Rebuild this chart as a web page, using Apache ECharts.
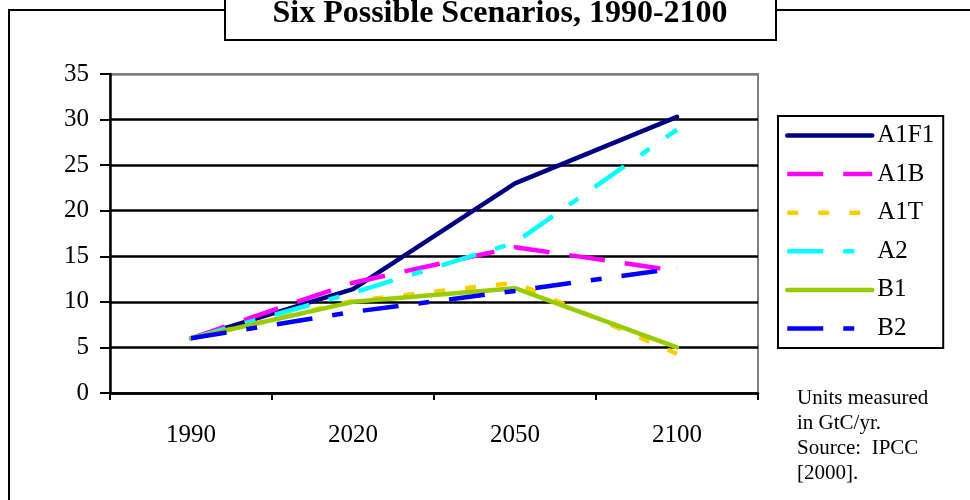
<!DOCTYPE html>
<html>
<head>
<meta charset="utf-8">
<script src="https://cdn.jsdelivr.net/npm/echarts@6/dist/echarts.min.js"></script>
<style>
  html, body { margin: 0; padding: 0; background: #fff; }
  #chart { width: 970px; height: 500px; }
</style>
</head>
<body>
<div id="chart"></div>
<script>
// values (GtC/yr)
var years = ["1990", "2020", "2050", "2100"];
var yTicks = [0, 5, 10, 15, 20, 25, 30, 35];
var a1f1 = [6, 11.4, 23, 30.3];
var a1b = [6, 12.1, 16.0, 13.4];
var a1t = [6, 10.1, 12.1, 4.3];
var a2 = [6, 11.0, 16.5, 28.9];
var b1 = [6, 10.0, 11.5, 5.0];
var b2 = [6, 8.9, 11.2, 13.7];

var serif = '"Liberation Serif", "DejaVu Serif", serif';

function mkLine(name, data, color, dash) {
  return {
    name: name,
    type: "line",
    data: data,
    symbol: "none",
    lineStyle: {
      color: color,
      width: 4.5,
      type: dash || "solid",
      cap: dash ? "butt" : "round"
    },
    itemStyle: { color: color },
    emphasis: { disabled: true }
  };
}

var chart = echarts.init(document.getElementById("chart"));
chart.setOption({
  animation: false,
  backgroundColor: "#fff",
  grid: {
    left: 110, right: 212, top: 74, bottom: 107,
    show: true, borderColor: "#808080", borderWidth: 2, backgroundColor: "#fff"
  },
  xAxis: {
    type: "category",
    data: years,
    boundaryGap: true,
    axisLine: { lineStyle: { color: "#000", width: 2.5 } },
    axisTick: { show: true, inside: false, length: 7, lineStyle: { color: "#000", width: 2 } },
    axisLabel: { margin: 30, color: "#000", fontSize: 25, fontFamily: serif },
    splitLine: { show: false }
  },
  yAxis: {
    type: "value",
    min: yTicks[0],
    max: yTicks[yTicks.length - 1],
    interval: yTicks[1] - yTicks[0],
    axisLine: { show: true, lineStyle: { color: "#000", width: 2.5 } },
    axisTick: { show: true, inside: false, length: 10, lineStyle: { color: "#000", width: 2 } },
    axisLabel: { margin: 21, color: "#000", fontSize: 25, fontFamily: serif },
    splitLine: {
      show: true,
      lineStyle: {
        color: ["#000", "#000", "#000", "#000", "#000", "#000", "#000", "#808080"],
        width: 2.5
      }
    }
  },
  legend: {
    orient: "vertical",
    left: 778,
    top: 116,
    padding: [7, 9, 7, 7],
    itemWidth: 85,
    itemHeight: 14,
    itemGap: 13.6,
    borderColor: "#000",
    borderWidth: 2,
    backgroundColor: "#fff",
    itemStyle: { opacity: 0 },
    lineStyle: { width: 4.5 },
    textStyle: { color: "#000", fontSize: 25, fontFamily: serif },
    data: ["A1F1", "A1B", "A1T", "A2", "B1", "B2"]
  },
  series: [
    mkLine("A1F1", a1f1, "#000080"),
    mkLine("A1B", a1b, "#ff00ff", [36, 20]),
    mkLine("A1T", a1t, "#ffcc00", [11, 20]),
    mkLine("A2", a2, "#00ffff", [36, 20, 11, 20]),
    mkLine("B1", b1, "#99cc00"),
    mkLine("B2", b2, "#0000ff", [36, 20, 11, 20])
  ],
  graphic: [
    {
      type: "polyline",
      shape: { points: [[9, 510], [9, 10], [230, 10]] },
      style: { stroke: "#000", lineWidth: 2, fill: null }
    },
    {
      type: "line",
      shape: { x1: 770, y1: 10, x2: 975, y2: 10 },
      style: { stroke: "#000", lineWidth: 2 }
    },
    {
      type: "rect",
      shape: { x: 225, y: -10, width: 551, height: 50 },
      style: { fill: "#fff", stroke: "#000", lineWidth: 2 }
    },
    {
      type: "text",
      x: 500,
      y: 14,
      style: {
        text: "Six Possible Scenarios, 1990-2100",
        font: 'bold 32px "Liberation Serif", serif',
        fill: "#000",
        align: "center",
        verticalAlign: "middle",
        textAlign: "center",
        textVerticalAlign: "middle"
      }
    },
    {
      type: "text",
      x: 797,
      y: 386,
      style: {
        text: "Units measured\nin GtC/yr.\nSource:  IPCC\n[2000].",
        font: '21px "Liberation Serif", serif',
        lineHeight: 25,
        fill: "#000",
        align: "left",
        verticalAlign: "top",
        textAlign: "left",
        textVerticalAlign: "top"
      }
    }
  ]
});
</script>
</body>
</html>
